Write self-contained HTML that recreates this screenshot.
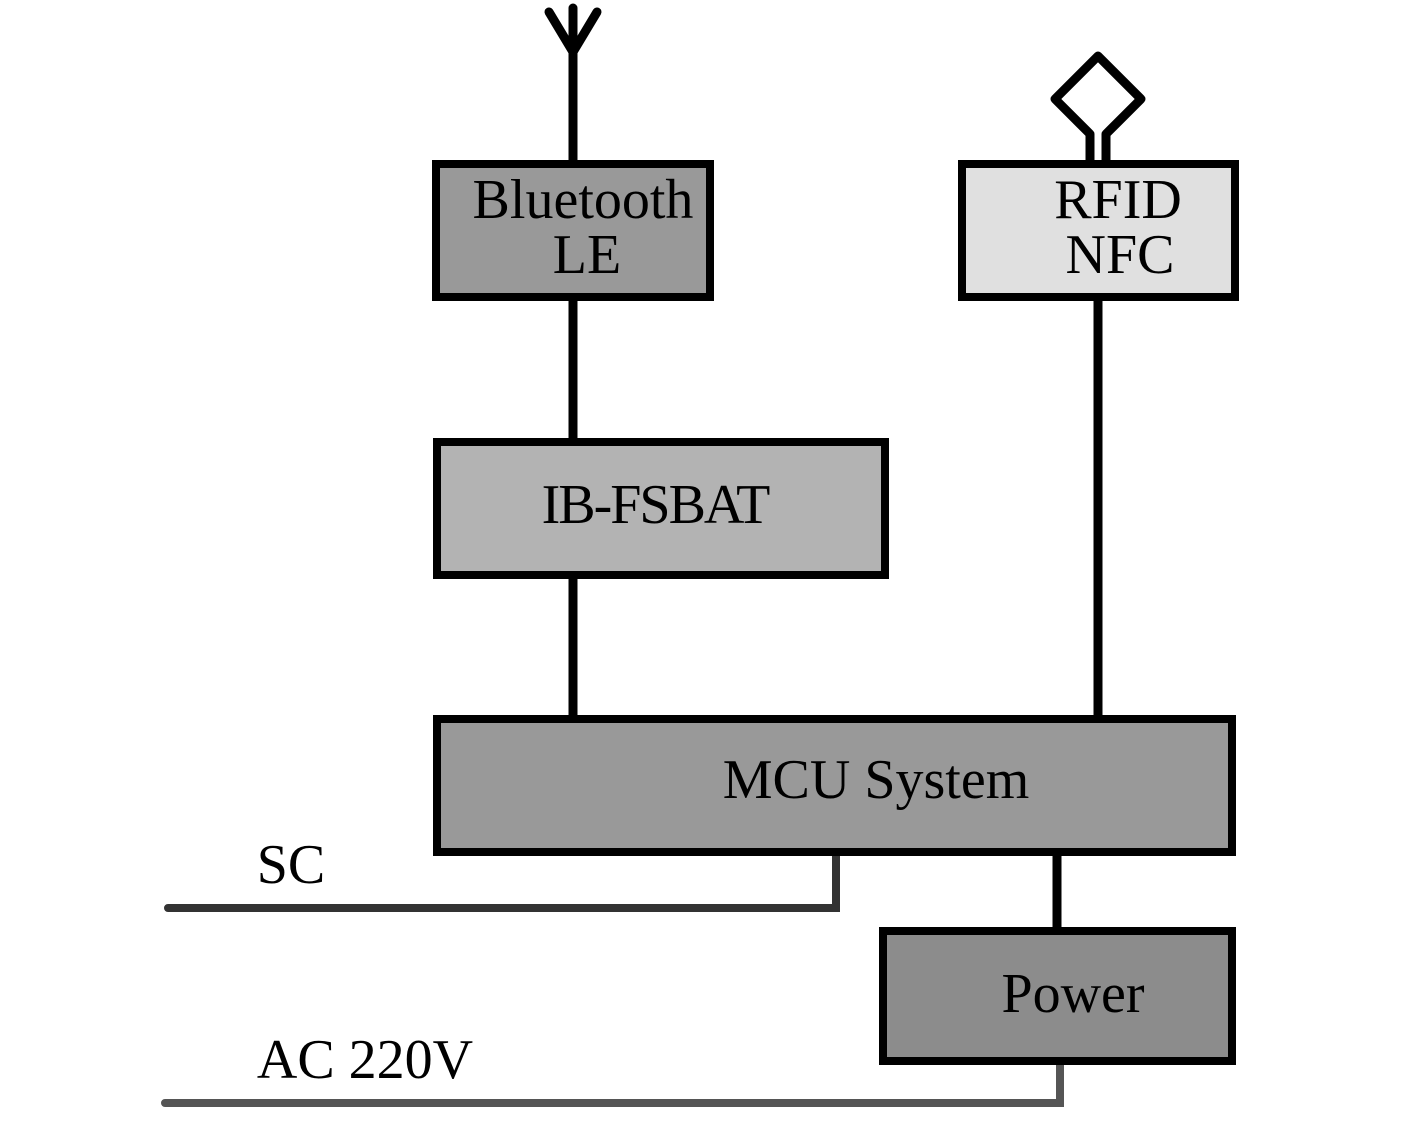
<!DOCTYPE html>
<html><head><meta charset="utf-8"><style>html,body{margin:0;padding:0;background:#fff}svg{display:block}</style></head>
<body>
<svg width="1417" height="1121" viewBox="0 0 1417 1121" xmlns="http://www.w3.org/2000/svg" font-family="Liberation Serif, serif" font-size="56" text-anchor="middle">
<g stroke="#000" stroke-width="9" stroke-linecap="round" fill="none">
<line x1="573" y1="8" x2="573" y2="163"/>
<polyline points="549,12 573,52 597,12"/>
<polyline points="1090,163 1090,134 1055,99 1098,56 1141,99 1106,134 1106,163" stroke-linejoin="round"/>
<line x1="573" y1="298" x2="573" y2="441"/>
<line x1="573" y1="576" x2="573" y2="718"/>
<line x1="1098" y1="298" x2="1098" y2="718"/>
<line x1="1057" y1="853" x2="1057" y2="930"/>
</g>
<polyline points="168,908 836,908 836,853" fill="none" stroke="#333" stroke-width="8" stroke-linecap="round"/>
<polyline points="165,1103 1060,1103 1060,1062" fill="none" stroke="#555" stroke-width="8" stroke-linecap="round"/>
<g stroke="#000" stroke-width="8">
<rect x="436" y="164" width="274" height="133" fill="#999"/>
<rect x="962" y="164" width="273" height="133" fill="#e0e0e0"/>
<rect x="437" y="442" width="448" height="133" fill="#b3b3b3"/>
<rect x="437" y="719" width="795" height="133" fill="#999"/>
<rect x="883" y="931" width="349" height="130" fill="#8c8c8c"/>
</g>
<g fill="#000">
<text x="583" y="218">Bluetooth</text>
<text x="587" y="273">LE</text>
<text x="1118" y="218">RFID</text>
<text x="1120" y="273">NFC</text>
<text x="655" y="523" letter-spacing="-2">IB-FSBAT</text>
<text x="876" y="798">MCU System</text>
<text x="1073" y="1012">Power</text>
<text x="291" y="883">SC</text>
<text x="365" y="1078">AC 220V</text>
</g>
</svg>
</body></html>
